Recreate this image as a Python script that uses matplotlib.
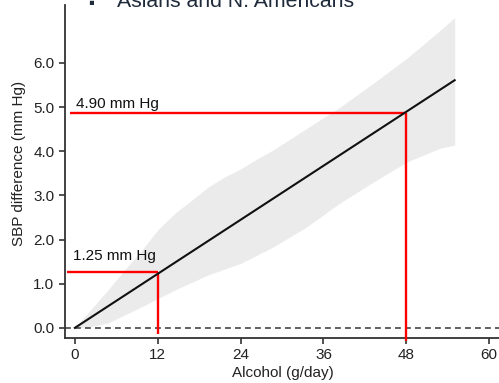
import numpy as np
import matplotlib
matplotlib.use("Agg")
import matplotlib.pyplot as plt

plt.rcParams['font.family'] = ['Liberation Sans', 'DejaVu Sans']

# fitted line
alcohol = [0, 55]
sbp = [0, 5.61]

# confidence band
upper_x = [0, 2.4, 4.8, 7.2, 9.7, 12.0, 14.5, 17.0, 19.3, 21.7, 24.0, 26.1,
           28.7, 33.6, 38.4, 43.2, 48.1, 52.9, 55]
upper_y = [0, 0.43, 0.86, 1.31, 1.76, 2.22, 2.60, 2.90, 3.19, 3.42, 3.60, 3.80,
           4.03, 4.52, 5.0, 5.54, 6.11, 6.74, 7.03]
lower_x = [0, 2.4, 4.8, 9.7, 14.5, 19.3, 24.0, 28.7, 33.6, 38.4, 43.2, 48.1, 52.9, 55]
lower_y = [0, 0.03, 0.11, 0.48, 0.86, 1.2, 1.46, 1.83, 2.29, 2.83, 3.30, 3.76, 4.07, 4.14]

# marked points
mark_x = [12, 48]
mark_y = [1.27, 4.86]
mark_labels = ["1.25 mm Hg", "4.90 mm Hg"]

xticks = [0, 12, 24, 36, 48, 60]
yticks = [0, 1, 2, 3, 4, 5, 6]

fig = plt.figure(figsize=(4.99, 3.83), dpi=100)
ax = fig.add_axes([0.130, 0.1175, 0.878, 0.869])

band_x = np.linspace(0, 55, 300)
band_hi = np.interp(band_x, upper_x, upper_y)
band_lo = np.interp(band_x, lower_x, lower_y)
ax.fill_between(band_x, band_lo, band_hi, color='#ebebeb', linewidth=0, zorder=1)

ax.axhline(0, color='#444444', linewidth=1.2, linestyle=(0, (3.5, 2.5)), zorder=2)
ax.plot(alcohol, sbp, color='#111111', linewidth=1.5, zorder=4)

starts = [-1.1, -0.7]
bottoms = [-0.14, -0.29]
for mx, my, s, b in zip(mark_x, mark_y, starts, bottoms):
    ax.plot([s, mx], [my, my], color='#ff0000', linewidth=1.7, zorder=3,
            solid_capstyle='butt')
    ax.plot([mx, mx], [my, b], color='#ff0000', linewidth=1.7, zorder=3,
            clip_on=False, solid_capstyle='butt')

ax.text(-0.3, 1.54, mark_labels[0], fontsize=11, color='#111111', va='baseline')
ax.text(0.15, 4.98, mark_labels[1], fontsize=11, color='#111111', va='baseline')

ax.set_xlim(-1.45, 62)
ax.set_ylim(-0.23, 7.31)
ax.set_xticks(xticks)
ax.set_yticks(yticks)
ax.set_yticklabels([f"{v:.1f}" for v in yticks])
ax.tick_params(labelsize=11, colors='#222222', length=4, width=1.1, direction='out')
for side in ['top', 'right']:
    ax.spines[side].set_visible(False)
for side in ['left', 'bottom']:
    ax.spines[side].set_color('#333333')
    ax.spines[side].set_linewidth(1.3)

ax.set_xlabel("Alcohol (g/day)", fontsize=11, color='#222222')
ax.set_ylabel("SBP difference (mm Hg)", fontsize=11, color='#222222')
ax.xaxis.set_label_coords(0.497, -0.084)
ax.yaxis.set_label_coords(-0.089, 0.525)

# slide heading cut off at the top
fig.text(88 / 499, 1 - 8 / 383, "\u25aa", fontsize=12, color='#1f2a3a', va='baseline')
fig.text(117 / 499, 1 - 7 / 383, "Asians and N. Americans", fontsize=15.3,
         color='#1f2a3a', va='baseline')

fig.savefig("out.png", dpi=100)
